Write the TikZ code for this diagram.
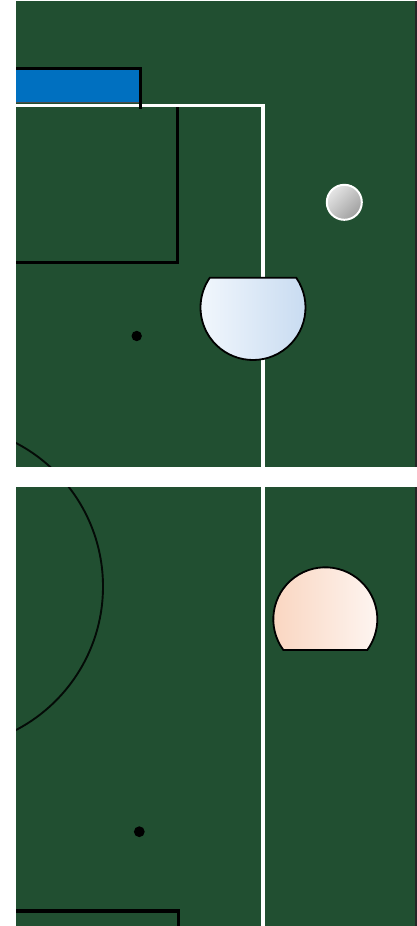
\documentclass[tikz,border=0pt]{standalone}
\usetikzlibrary{calc}
\definecolor{field}{RGB}{33,79,49}
\definecolor{goalblue}{RGB}{0,112,192}
\definecolor{robAl}{RGB}{242,247,253}
\definecolor{robAr}{RGB}{198,218,240}
\definecolor{robBl}{RGB}{249,212,190}
\definecolor{robBr}{RGB}{254,246,242}
\tikzset{
  fieldline/.style={line width=3.4, white},
  markline/.style={line width=3.4, black},
  robot/.style={draw=black, line width=1.8},
  spot/.style={fill=black},
}
\begin{document}
\begin{tikzpicture}[x=1pt,y=-1pt]
\useasboundingbox (0,0) rectangle (417,926);
\fill[white] (0,0) rectangle (417,926);
% field
\fill[field] (16,1) rectangle (414.5,926);
\fill[black!85] (414.5,1) rectangle (417,926);
\begin{scope}
  \clip (16,1) rectangle (414.5,926);
  % centre circle
  \draw[black, opacity=0.85, line width=1.9] (-58.8,586.5) circle[radius=161.8];
  % penalty areas
  \draw[markline] (177.5,105) -- (177.5,262.5) -- (10,262.5);
  \draw[markline] (10,911) -- (178.5,911) -- (178.5,930);
  % goal fill
  \fill[goalblue] (10,69.5) rectangle (138.5,102);
  \draw[black!70, line width=1] (10,102.2) -- (138.5,102.2);
  % white lines
  \draw[fieldline] (10,105.2) -- (262.8,105.2) -- (262.8,930);
  % goal frame
  \draw[markline, line cap=rect] (10,68.3) -- (140.2,68.3) -- (140.2,107.5);
  % penalty spots
  \fill[spot] (136.7,336) circle[radius=5.2];
  \fill[spot] (139.3,831.7) circle[radius=5.4];
\end{scope}
% separating band
\fill[white] (0,467) rectangle (417,487);
% robots
\coordinate (rA) at (253,307.5);
\shade[robot, left color=robAl, right color=robAr]
  ($(rA)+(-34.5:52.5)$) arc[start angle=-34.5, end angle=214.5, radius=52.5] -- cycle;
\coordinate (rB) at (325.3,619.3);
\shade[robot, left color=robBl, right color=robBr]
  ($(rB)+(143.8:52)$) arc[start angle=143.8, end angle=396.2, radius=52] -- cycle;
% ball
\shade[draw=white, line width=2, shading=axis, top color=gray!20, bottom color=gray!75, shading angle=45]
  (344.3,202.3) circle[radius=17.5];
\end{tikzpicture}
\end{document}
